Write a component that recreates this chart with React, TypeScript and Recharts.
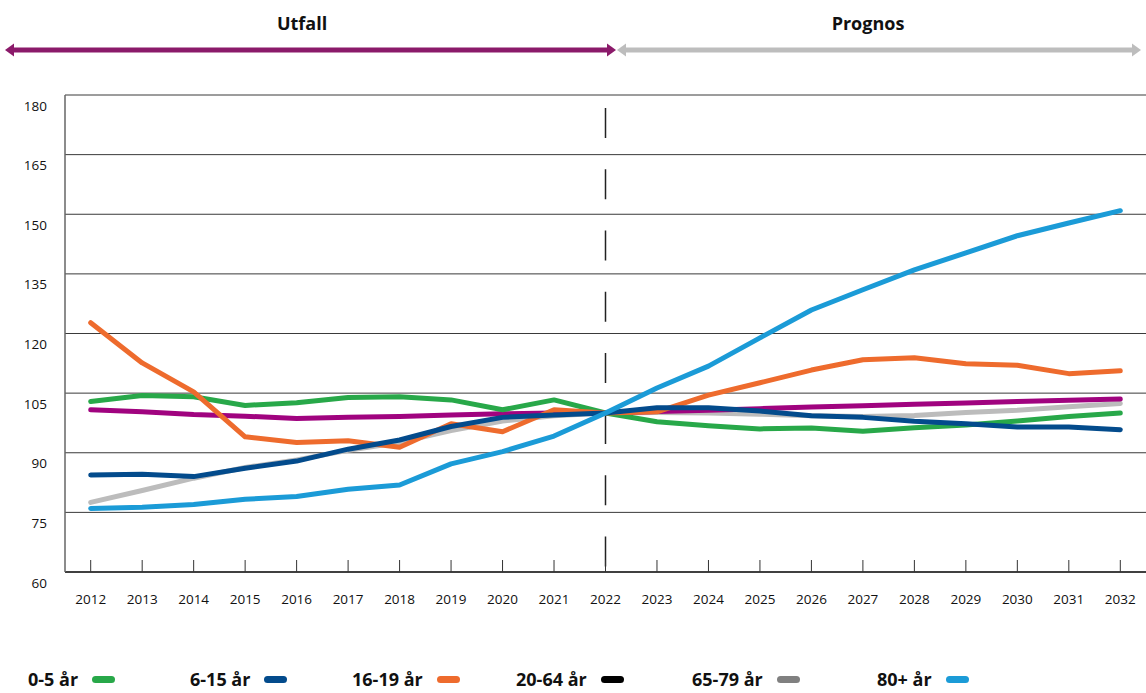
import React from 'react';
import { LineChart, Line, XAxis, YAxis, CartesianGrid, ReferenceLine } from 'recharts';

const years = ['2012','2013','2014','2015','2016','2017','2018','2019','2020','2021','2022','2023','2024','2025','2026','2027','2028','2029','2030','2031','2032'];
const age0to5 = [102.9,104.4,104.1,101.9,102.6,103.9,104.1,103.3,100.8,103.3,100,97.8,96.8,96.0,96.2,95.4,96.3,97.0,98.0,99.1,100.0];
const age6to15 = [84.4,84.6,84.0,86.1,87.9,90.9,93.2,96.6,98.9,99.5,100,101.3,101.3,100.5,99.3,98.9,97.9,97.3,96.5,96.5,95.8];
const age16to19 = [122.7,112.6,105.3,94.0,92.6,93.0,91.4,97.3,95.3,100.8,100,100.3,104.5,107.6,110.8,113.4,113.9,112.4,112.0,109.9,110.6];
const age20to64 = [100.8,100.3,99.6,99.2,98.6,98.9,99.1,99.5,99.8,100.0,100,100.4,100.7,101.1,101.5,101.8,102.2,102.5,102.9,103.2,103.5];
const age65to79 = [77.5,80.5,83.6,86.3,88.2,90.6,92.6,95.6,98.0,99.3,100,100.1,100.0,99.7,99.3,99.1,99.4,100.1,100.7,101.6,102.4];
const age80plus = [76.0,76.3,77.0,78.3,79.0,80.8,81.9,87.2,90.3,94.2,100,106.3,111.8,118.9,125.9,131.0,136.0,140.3,144.6,147.8,150.9];
const yTicks = [60,75,90,105,120,135,150,165,180];

const seriesNames = ['0-5 år','6-15 år','16-19 år','20-64 år','65-79 år','80+ år'];
const lineColors = ['#28a849','#034b8c','#ee6b2d','#a0037f','#bcbcbc','#1b9bd7'];
const legendColors = ['#28a849','#034b8c','#ee6b2d','#000000','#808080','#1b9bd7'];
const legendLefts = [28, 190, 352, 516, 692, 877];

const data = years.map((year, i) => ({
  year,
  s0: age0to5[i],
  s1: age6to15[i],
  s2: age16to19[i],
  s3: age20to64[i],
  s4: age65to79[i],
  s5: age80plus[i],
}));

const FONT = '"Open Sans", "Noto Sans", sans-serif';

const XTick = (props: any) => {
  const { x, y, payload } = props;
  return (
    <g>
      <line x1={x} x2={x} y1={y} y2={y - 12} stroke="#333" strokeWidth={1} />
      <text x={x} y={y + 28} textAnchor="middle" dominantBaseline="middle" fontSize={13.5} fontFamily={FONT} fill="#111">
        {payload.value}
      </text>
    </g>
  );
};

const YTick = (props: any) => {
  const { x, y, payload } = props;
  return (
    <text x={x - 18} y={y + 12} textAnchor="end" dominantBaseline="middle" fontSize={13.5} fontFamily={FONT} fill="#111">
      {payload.value}
    </text>
  );
};

const drawOrder = [4, 3, 0, 2, 1, 5];

export default function App() {
  return (
    <div style={{ position: 'absolute', left: 0, top: 0, width: 1146, height: 693, background: '#fff', fontFamily: FONT, overflow: 'hidden' }}>
      <svg width={1146} height={80} style={{ position: 'absolute', left: 0, top: 0 }}>
        <text x={302} y={25} textAnchor="middle" dominantBaseline="middle" fontSize={18} fontWeight={700} fontFamily={FONT} fill="#111">Utfall</text>
        <text x={868} y={25} textAnchor="middle" dominantBaseline="middle" fontSize={18} fontWeight={700} fontFamily={FONT} fill="#111">Prognos</text>
        <line x1={12} x2={608} y1={50} y2={50} stroke="#8b1a6a" strokeWidth={5} />
        <polygon points="5,50 14,43.5 14,56.5" fill="#8b1a6a" />
        <polygon points="616,50 607,43.5 607,56.5" fill="#8b1a6a" />
        <line x1={626} x2={1134} y1={50} y2={50} stroke="#bdbdbd" strokeWidth={5} />
        <polygon points="617,50 626,43.5 626,56.5" fill="#bdbdbd" />
        <polygon points="1141,50 1132,43.5 1132,56.5" fill="#bdbdbd" />
      </svg>
      <div style={{ position: 'absolute', left: 0, top: 0 }}>
        <LineChart width={1146} height={693} data={data} margin={{ top: 95, right: 0, left: 0, bottom: 0 }}>
          <CartesianGrid vertical={false} stroke="#3a3a3a" strokeWidth={1} />
          <XAxis
            dataKey="year"
            height={121}
            padding={{ left: 25.7, right: 25.7 }}
            tickLine={false}
            tickSize={0}
            tickMargin={0}
            axisLine={{ stroke: '#222', strokeWidth: 1.5 }}
            tick={<XTick />}
            interval={0}
          />
          <YAxis
            width={65}
            domain={[60, 180]}
            ticks={yTicks}
            tickLine={false}
            tickSize={0}
            tickMargin={0}
            axisLine={{ stroke: '#666', strokeWidth: 1.5 }}
            tick={<YTick />}
            interval={0}
          />
          <ReferenceLine
            segment={[{ x: '2022', y: 176.7 }, { x: '2022', y: 60 }]}
            stroke="#222"
            strokeWidth={1.5}
            strokeDasharray="30 31.2"
          />
          {drawOrder.map((i) => (
            <Line
              key={i}
              type="linear"
              dataKey={`s${i}`}
              name={seriesNames[i]}
              stroke={lineColors[i]}
              strokeWidth={5}
              strokeLinecap="round"
              strokeLinejoin="round"
              dot={false}
              activeDot={false}
              isAnimationActive={false}
            />
          ))}
        </LineChart>
      </div>
      {seriesNames.map((name, i) => (
        <div
          key={name}
          style={{
            position: 'absolute',
            left: legendLefts[i],
            top: 670,
            display: 'flex',
            alignItems: 'center',
            fontSize: 18,
            lineHeight: '19px',
            fontWeight: 700,
            color: '#111',
            whiteSpace: 'nowrap',
            height: 19,
          }}
        >
          <span>{name}</span>
          <span style={{ display: 'inline-block', width: 23, height: 7, borderRadius: 4, background: legendColors[i], marginLeft: 14 }} />
        </div>
      ))}
    </div>
  );
}
